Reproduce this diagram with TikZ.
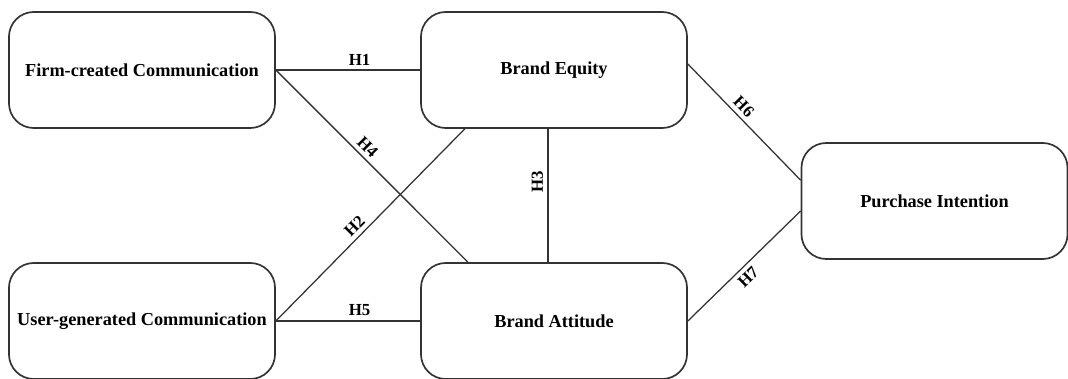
\documentclass[tikz,border=0pt]{standalone}
\usepackage{fontspec}
\setmainfont{Liberation Serif}
\usepackage{tikz}
\usepackage{xcolor}

\begin{document}
\begin{tikzpicture}[x=0.025cm, y=-0.025cm,
  construct/.style={draw=black!80, line width=1.2pt, rounded corners=0.62cm,
    minimum width=6.65cm, minimum height=2.9cm, align=center,
    font=\bfseries\fontsize{13}{15}\selectfont},
  path/.style={draw=black!80, line width=0.9pt},
  hyp/.style={font=\bfseries\fontsize{12}{14}\selectfont, inner sep=3pt}]
  \useasboundingbox (0,0) rectangle (1068,379);
  % constructs
  \node[construct] (fc) at (142,70)  {Firm-created Communication};
  \node[construct] (ug) at (142,321) {User-generated Communication};
  \node[construct] (be) at (554,70)  {Brand Equity};
  \node[construct] (ba) at (554,321) {Brand Attitude};
  \node[construct] (pi) at (934.5,201) {Purchase Intention};
  % hypotheses
  \draw[path] (fc.east) -- node[hyp, pos=0.58, above] {H1} (be.west);
  \draw[path] (ug.east) -- node[hyp, pos=0.455, sloped, above] {H2} ([xshift=-2.23cm]be.south);
  \draw[path] ([xshift=-0.15cm]ba.north) -- node[hyp, pos=0.6, sloped, above] {H3} ([xshift=-0.15cm]be.south);
  \draw[path] (fc.east) -- node[hyp, pos=0.44, sloped, above] {H4} ([xshift=-2.15cm]ba.north);
  \draw[path] (ug.east) -- node[hyp, pos=0.58, above] {H5} (ba.west);
  \draw[path] ([yshift=0.15cm]be.east) -- node[hyp, pos=0.43, sloped, above] {H6} ([yshift=0.52cm]pi.west);
  \draw[path] (ba.east) -- node[hyp, pos=0.47, sloped, below] {H7} ([yshift=-0.25cm]pi.west);
\end{tikzpicture}
\end{document}
